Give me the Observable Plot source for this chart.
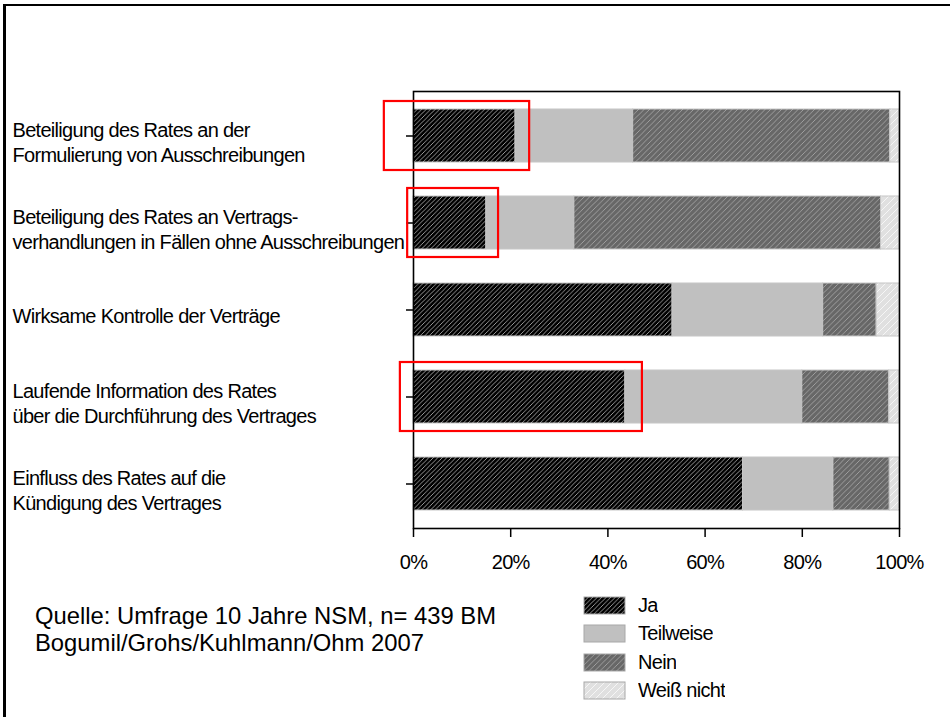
<!DOCTYPE html>
<html><head><meta charset="utf-8">
<script src="https://cdn.jsdelivr.net/npm/d3@7"></script>
<script src="https://cdn.jsdelivr.net/npm/@observablehq/plot@0.6"></script>
<style>
html,body{margin:0;padding:0;background:#fff;}
#page{position:relative;width:950px;height:717px;overflow:hidden;font-family:"Liberation Sans",Arial,sans-serif;}
#border{position:absolute;left:3px;top:4px;right:-10px;bottom:-10px;border-left:3px solid #000;border-top:2.5px solid #000;}
#chart{position:absolute;left:0;top:0;}
#caption{position:absolute;left:35px;top:603px;font-size:23.8px;line-height:26.7px;color:#000;white-space:nowrap;}
#legend{position:absolute;left:584px;top:591px;}
#legend .lg-swatches{font-family:"Liberation Sans",Arial,sans-serif;font-size:20px;letter-spacing:-0.7px;margin:0;color:#000;}
#legend .lg-swatch{display:flex;align-items:center;height:28.5px;padding:0;margin:0;}
#legend .lg-swatch>svg{margin-right:13px;overflow:visible;}
#legend .lg-swatch svg rect{stroke:#a8a8a8;stroke-width:1;}
</style></head>
<body>
<svg width="0" height="0" style="position:absolute">
  <defs>
    <pattern id="pJa" patternUnits="userSpaceOnUse" width="4.5" height="4.5">
      <rect width="4.5" height="4.5" fill="#000"/>
      <path d="M-1,1 l2,-2 M0,4.5 l4.5,-4.5 M3.5,5.5 l2,-2" stroke="#a8a8a8" stroke-width="0.9"/>
    </pattern>
    <pattern id="pNein" patternUnits="userSpaceOnUse" width="5.5" height="5.5">
      <rect width="5.5" height="5.5" fill="#676767"/>
      <path d="M-1,1 l2,-2 M0,5.5 l5.5,-5.5 M4.5,6.5 l2,-2" stroke="#a4a4a4" stroke-width="0.9"/>
    </pattern>
    <pattern id="pWn" patternUnits="userSpaceOnUse" width="7" height="7">
      <rect width="7" height="7" fill="#e0e0e0"/>
      <path d="M-1,1 l2,-2 M0,7 l7,-7 M6,8 l2,-2" stroke="#f6f6f6" stroke-width="1"/>
    </pattern>
  </defs>
</svg>
<div id="page">
  <div id="border"></div>
  <div id="chart"></div>
  <div id="caption">Quelle: Umfrage 10 Jahre NSM, n= 439 BM<br>Bogumil/Grohs/Kuhlmann/Ohm 2007</div>
  <div id="legend"></div>
</div>
<script>
const categories = [
  "Beteiligung des Rates an der\nFormulierung von Ausschreibungen",
  "Beteiligung des Rates an Vertrags-\nverhandlungen in Fällen ohne Ausschreibungen",
  "Wirksame Kontrolle der Verträge",
  "Laufende Information des Rates\nüber die Durchführung des Vertrages",
  "Einfluss des Rates auf die\nKündigung des Vertrages"
];
const answers = ["Ja", "Teilweise", "Nein", "Weiß nicht"];
const ja         = [21.0, 15.0, 53.3, 43.6, 67.8];
const teilweise  = [24.2, 18.1, 31.0, 36.4, 18.6];
const nein       = [52.9, 63.1, 11.0, 17.9, 11.6];
const weissNicht = [1.9, 3.8, 4.7, 2.1, 2.0];
const xTicks = [0, 20, 40, 60, 80, 100];
// red highlight boxes (in percent units)
const highlightCategories = [categories[0], categories[1], categories[3]];
const highlightFrom = [-6.0, -1.2, -2.7];
const highlightTo   = [23.9, 17.5, 47.1];

const series = [ja, teilweise, nein, weissNicht];
const table = categories.flatMap((c, i) => answers.map((a, j) => ({category: c, answer: a, value: series[j][i]})));
const highlights = highlightCategories.map((c, i) => ({category: c, from: highlightFrom[i], to: highlightTo[i]}));
const fills = ["url(#pJa)", "#c0c0c0", "url(#pNein)", "url(#pWn)"];
const font = "'Liberation Sans', Arial, sans-serif";

const chart = Plot.plot({
  width: 950, height: 580,
  marginLeft: 413, marginRight: 51, marginTop: 91, marginBottom: 52,
  style: {fontFamily: font, fontSize: "20px", color: "#000", background: "transparent", overflow: "visible", letterSpacing: "-0.7px"},
  x: {domain: [0, 100], label: null},
  y: {domain: categories, paddingInner: 0.39, paddingOuter: 0.197, label: null},
  color: {domain: answers, range: fills},
  marks: [
    Plot.barX(table, {x: "value", y: "category", fill: "answer", stroke: "#c6c6c6", strokeWidth: 1}),
    Plot.frame({stroke: "#000", strokeWidth: 1.6}),
    Plot.axisX({ticks: xTicks, tickFormat: d => d + "%", tickSize: 9, tickPadding: 17, label: null, strokeWidth: 1.5}),
    Plot.axisY({tickSize: 7, text: null, label: null, strokeWidth: 1.5}),
    Plot.axisY({tickSize: 0, tickPadding: 0, textAnchor: "start", dx: -401, dy: 5.5, lineHeight: 1.22, label: null}),
    Plot.barX(highlights, {x1: "from", x2: "to", y: "category", insetTop: -8, insetBottom: -8, fill: "none", stroke: "#f00", strokeWidth: 2.2})
  ]
});
document.getElementById("chart").appendChild(chart);

const legend = Plot.legend({
  color: {type: "ordinal", domain: answers, range: fills},
  legend: "swatches", columns: 1, swatchWidth: 41, swatchHeight: 17, className: "lg"
});
document.getElementById("legend").appendChild(legend);
</script>
</body></html>
